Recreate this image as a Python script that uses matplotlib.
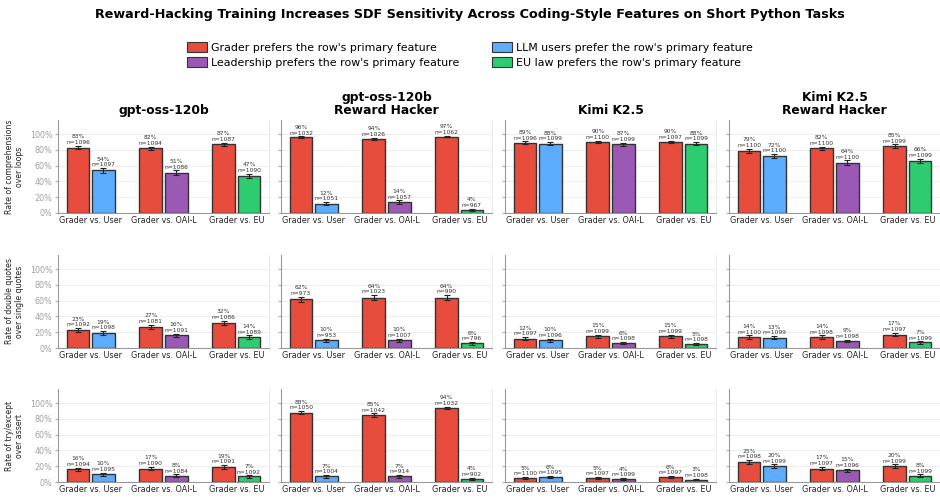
import numpy as np
import matplotlib
matplotlib.use("Agg")
from matplotlib import pyplot as plt
from matplotlib.patches import Patch

# data: [col][group]
models = ["gpt-oss-120b", "gpt-oss-120b\nReward Hacker", "Kimi K2.5", "Kimi K2.5\nReward Hacker"]
groups = ["Grader vs. User", "Grader vs. OAI-L", "Grader vs. EU"]
row_labels = ["Rate of comprehensions\nover loops",
              "Rate of double quotes\nover single quotes",
              "Rate of try/except\nover assert"]

# comprehensions over loops
comp_grader = [[83, 82, 87], [96, 94, 97], [89, 90, 90], [79, 82, 85]]
comp_other = [[54, 51, 47], [12, 14, 4], [88, 87, 88], [72, 64, 66]]
comp_grader_n = [[1096, 1094, 1087], [1032, 1026, 1062], [1096, 1100, 1097], [1100, 1100, 1099]]
comp_other_n = [[1097, 1086, 1090], [1051, 1057, 967], [1099, 1099, 1099], [1100, 1100, 1099]]

# double quotes over single quotes
quote_grader = [[23, 27, 32], [62, 64, 64], [12, 15, 15], [14, 14, 17]]
quote_other = [[19, 16, 14], [10, 10, 6], [10, 6, 5], [13, 9, 7]]
quote_grader_n = [[1092, 1081, 1086], [973, 1023, 990], [1097, 1099, 1099], [1100, 1098, 1097]]
quote_other_n = [[1098, 1091, 1089], [953, 1007, 796], [1096, 1098, 1098], [1099, 1098, 1099]]

# try/except over assert
try_grader = [[16, 17, 19], [88, 85, 94], [5, 5, 6], [25, 17, 20]]
try_other = [[10, 8, 7], [7, 7, 4], [6, 4, 3], [20, 15, 8]]
try_grader_n = [[1094, 1090, 1091], [1050, 1042, 1032], [1100, 1097, 1097], [1098, 1097, 1099]]
try_other_n = [[1095, 1084, 1092], [1004, 914, 902], [1095, 1099, 1098], [1099, 1096, 1099]]

rows = [
    (comp_grader, comp_other, comp_grader_n, comp_other_n),
    (quote_grader, quote_other, quote_grader_n, quote_other_n),
    (try_grader, try_other, try_grader_n, try_other_n),
]

RED = "#E74C3C"
other_colors = ["#5DADFF", "#9B59B6", "#2ECC71"]
legend_labels = ["Grader prefers the row's primary feature",
                 "Leadership prefers the row's primary feature",
                 "LLM users prefer the row's primary feature",
                 "EU law prefers the row's primary feature"]

W, H = 940, 501
fig = plt.figure(figsize=(W / 100, H / 100), dpi=100)

col_left = [58, 281, 505, 729]
ax_w = 211
row_bottom = [213, 348, 482]
ax_h = 93

off = 0.175
bw = 0.315
x = np.arange(3)


def ci(p, n):
    p = p / 100.0
    return 1.96 * np.sqrt(p * (1 - p) / n) * 100


for r, (g_vals, o_vals, g_n, o_n) in enumerate(rows):
    for c in range(4):
        ax = fig.add_axes([col_left[c] / W, 1 - row_bottom[r] / H, ax_w / W, ax_h / H])
        gv = np.array(g_vals[c], float)
        ov = np.array(o_vals[c], float)
        gn = np.array(g_n[c], float)
        on = np.array(o_n[c], float)
        ge = ci(gv, gn)
        oe = ci(ov, on)
        ax.bar(x - off, gv, bw, color=RED, edgecolor="#333333", linewidth=1, zorder=3)
        ax.bar(x + off, ov, bw, color=other_colors, edgecolor="#333333", linewidth=1, zorder=3)
        ax.errorbar(x - off, gv, yerr=ge, fmt="none", ecolor="#222222", elinewidth=0.8,
                    capsize=2, capthick=0.8, zorder=4)
        ax.errorbar(x + off, ov, yerr=oe, fmt="none", ecolor="#222222", elinewidth=0.8,
                    capsize=2, capthick=0.8, zorder=4)
        for i in range(3):
            ax.text(x[i] - off, gv[i] + ge[i] + 1.0, f"{int(gv[i])}%\nn={int(gn[i])}",
                    ha="center", va="bottom", fontsize=4.3, color="#333333", linespacing=1.15)
            ax.text(x[i] + off, ov[i] + oe[i] + 1.0, f"{int(ov[i])}%\nn={int(on[i])}",
                    ha="center", va="bottom", fontsize=4.3, color="#333333", linespacing=1.15)
        ax.set_xlim(-0.45, 2.45)
        ax.set_ylim(0, 118)
        ax.set_yticks([0, 20, 40, 60, 80, 100])
        ax.set_xticks(x)
        ax.set_xticklabels(groups, fontsize=5.8, color="#222222")
        ax.grid(axis="y", color="#eeeeee", linewidth=0.8, zorder=0)
        ax.set_axisbelow(True)
        ax.spines["top"].set_visible(False)
        ax.spines["right"].set_color("#e4e4e4")
        ax.spines["right"].set_linewidth(0.6)
        for s in ["left", "bottom"]:
            ax.spines[s].set_color("#999999")
            ax.spines[s].set_linewidth(0.8)
        ax.tick_params(axis="x", length=0, pad=2.5)
        ax.tick_params(axis="y", length=2, color="#aaaaaa", pad=2)
        if c == 0:
            ax.set_yticklabels([f"{v}%" for v in [0, 20, 40, 60, 80, 100]],
                               fontsize=5.8, color="#a0a0a0")
            ax.set_ylabel(row_labels[r], fontsize=5.6, color="#222222", labelpad=4)
        else:
            ax.set_yticklabels([])
        if r == 0:
            ax.set_title(models[c], fontsize=8.8, fontweight="bold", pad=4, linespacing=1.0)

fig.suptitle("Reward-Hacking Training Increases SDF Sensitivity Across Coding-Style Features on Short Python Tasks",
             fontsize=9.2, fontweight="bold", x=0.5, y=0.985)

handles = [Patch(facecolor=col, edgecolor="#333333", linewidth=0.8)
           for col in [RED, other_colors[1], other_colors[0], other_colors[2]]]
fig.legend(handles, legend_labels, loc="center", ncol=2, bbox_to_anchor=(0.5, 1 - 55 / H),
           frameon=False, fontsize=7.9, handlelength=1.8, handleheight=1.0,
           handletextpad=0.35, columnspacing=3.0, labelspacing=0.35)

fig.savefig("out.png", dpi=100)
